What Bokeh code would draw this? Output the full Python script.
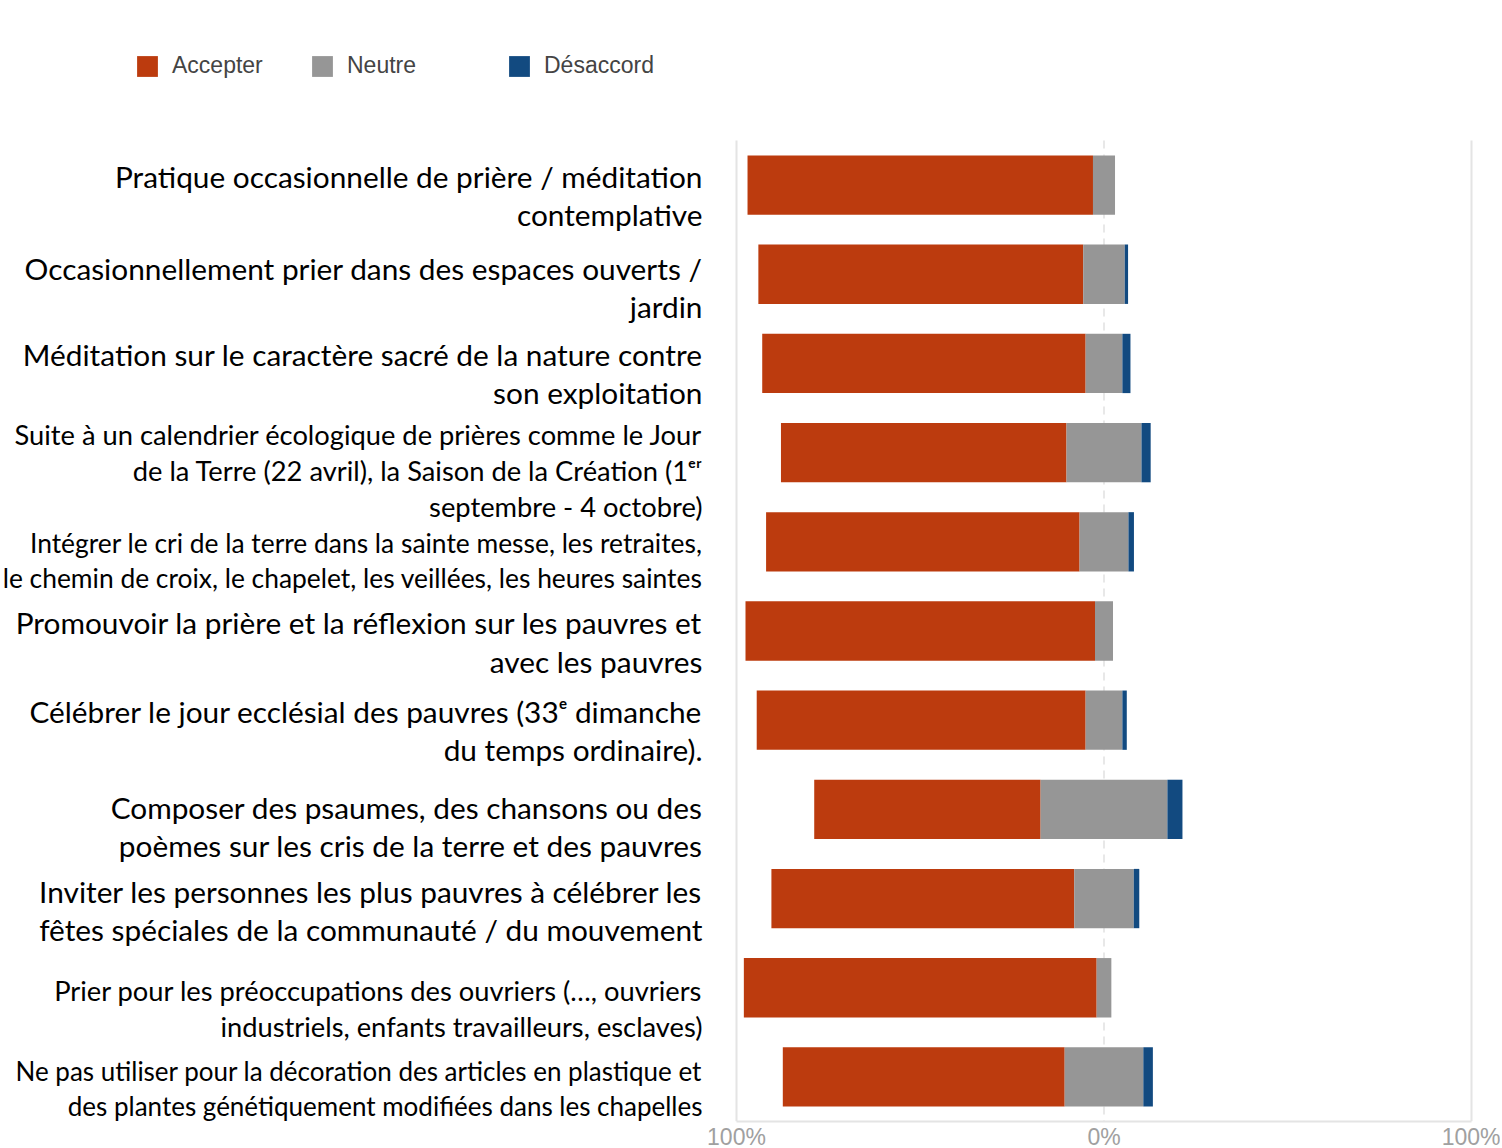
from bokeh.plotting import figure
from bokeh.models import ColumnDataSource, Range1d, Legend, LegendItem, FixedTicker
from bokeh.core.properties import value
from bokeh.embed import file_html
from bokeh.resources import INLINE

# ---------------- data ----------------
categories = [
    "Pratique occasionnelle de prière / méditation\ncontemplative",
    "Occasionnellement prier dans des espaces ouverts /\njardin",
    "Méditation sur le caractère sacré de la nature contre\nson exploitation",
    "Suite à un calendrier écologique de prières comme le Jour\nde la Terre (22 avril), la Saison de la Création (1ᵉʳ\nseptembre - 4 octobre)",
    "Intégrer le cri de la terre dans la sainte messe, les retraites,\nle chemin de croix, le chapelet, les veillées, les heures saintes",
    "Promouvoir la prière et la réflexion sur les pauvres et\navec les pauvres",
    "Célébrer le jour ecclésial des pauvres (33ᵉ dimanche\ndu temps ordinaire).",
    "Composer des psaumes, des chansons ou des\npoèmes sur les cris de la terre et des pauvres",
    "Inviter les personnes les plus pauvres à célébrer les\nfêtes spéciales de la communauté / du mouvement",
    "Prier pour les préoccupations des ouvriers (…, ouvriers\nindustriels, enfants travailleurs, esclaves)",
    "Ne pas utiliser pour la décoration des articles en plastique et\ndes plantes génétiquement modifiées dans les chapelles",
]
accepter = [94.0, 88.4, 88.0, 77.7, 85.3, 95.1, 89.5, 61.6, 82.4, 96.0, 76.7]
neutre = [6.0, 11.3, 10.0, 20.4, 13.3, 4.9, 10.0, 34.5, 16.2, 4.0, 21.4]
desaccord = [0.0, 0.9, 2.2, 2.5, 1.5, 0.0, 1.2, 4.1, 1.5, 0.0, 2.6]
series_names = ["Accepter", "Neutre", "Désaccord"]
tick_values = [-100, 0, 100]
tick_labels = ["100%", "0%", "100%"]

# ---------------- style ----------------
colors = ["#BC3B0E", "#969696", "#124A80"]
label_sizes = ["29.8px", "29.8px", "29.8px", "27.3px", "26.4px", "29.8px",
               "29.8px", "29.8px", "29.8px", "27.3px", "26px"]
label_dy = [10, 13, 10, 18, 19, 11, 10, 17, 12, 21, 12]   # px shift of each label block
W = 1500
FRAME_H = 1121
ROWS_TOP = 140          # px from top where the first row starts
PX_PER_UNIT = 3.675     # horizontal scale
ZERO_PX = 1103.5        # horizontal position of 0 %

n = len(categories)
rows = list(range(n))
row_px = (FRAME_H - ROWS_TOP) / n

# diverging layout: neutral centred on 0
n_left = [-v / 2 for v in neutre]
n_right = [v / 2 for v in neutre]
a_left = [nl - a for nl, a in zip(n_left, accepter)]
d_right = [nr + d for nr, d in zip(n_right, desaccord)]

src = ColumnDataSource(dict(
    row=rows, cat=categories, a_left=a_left, n_left=n_left, n_right=n_right, d_right=d_right,
    size=label_sizes, dy=label_dy, x=[tick_values[0]] * n,
))

x0 = -ZERO_PX / PX_PER_UNIT
x1 = (W - ZERO_PX) / PX_PER_UNIT
p = figure(
    x_range=Range1d(x0, x1),
    y_range=Range1d(n - 0.5, -0.5 - ROWS_TOP / row_px),
    width=W, frame_height=FRAME_H,
    min_border_left=0, min_border_right=0, min_border_top=0, min_border_bottom=0,
    output_backend="svg", toolbar_location=None, y_axis_location=None,
    outline_line_color=None,
)
p.xgrid.grid_line_color = None
p.ygrid.grid_line_color = None

# grid lines over the rows only
solid = [t for t in tick_values if t != 0]
dashed = [t for t in tick_values if t == 0]
p.segment(x0=solid, y0=[-0.5] * len(solid), x1=solid, y1=[n - 0.5] * len(solid),
          line_color="#e4e4e4", line_width=2)
p.segment(x0=dashed, y0=[-0.5] * len(dashed), x1=dashed, y1=[n - 0.5] * len(dashed),
          line_color="#e8e8e8", line_width=2, line_dash="8 6")

bh = 0.665
r_acc = p.hbar(y="row", left="a_left", right="n_left", height=bh, source=src,
               fill_color=colors[0], line_color=None)
r_neu = p.hbar(y="row", left="n_left", right="n_right", height=bh, source=src,
               fill_color=colors[1], line_color=None)
r_dis = p.hbar(y="row", left="n_right", right="d_right", height=bh, source=src,
               fill_color=colors[2], line_color=None)

# x axis
ax = p.xaxis[0]
ax.bounds = (tick_values[0], tick_values[-1])
ax.ticker = FixedTicker(ticks=tick_values)
ax.major_label_overrides = {t: l for t, l in zip(tick_values, tick_labels)}
ax.major_tick_line_color = None
ax.minor_tick_line_color = None
ax.axis_line_color = "#e4e4e4"
ax.axis_line_width = 2
ax.major_label_text_color = "#a0a0a0"
ax.major_label_text_font = "Liberation Sans"
ax.major_label_text_font_size = "23px"
ax.major_label_standoff = -4

# category labels
p.text(x="x", y="row", text="cat", source=src, x_offset=-34, y_offset="dy",
       text_align="right", text_baseline="middle",
       text_font=value("Lato"), text_font_size="size", text_color="#000000",
       text_line_height=1.09)

# legend (three separate items placed above the rows)
leg_x = [134, 309, 506]
for name, rend, lx in zip(series_names, [r_acc, r_neu, r_dis], leg_x):
    lg = Legend(items=[LegendItem(label=name, renderers=[rend])],
                location=(lx, FRAME_H - 79),
                glyph_width=26, glyph_height=26, label_standoff=12,
                label_text_font="Liberation Sans", label_text_font_size="23px",
                label_text_color="#444444", padding=0, margin=0,
                border_line_color=None, background_fill_alpha=0)
    p.add_layout(lg)

open("out.html", "w").write(file_html(p, INLINE))
